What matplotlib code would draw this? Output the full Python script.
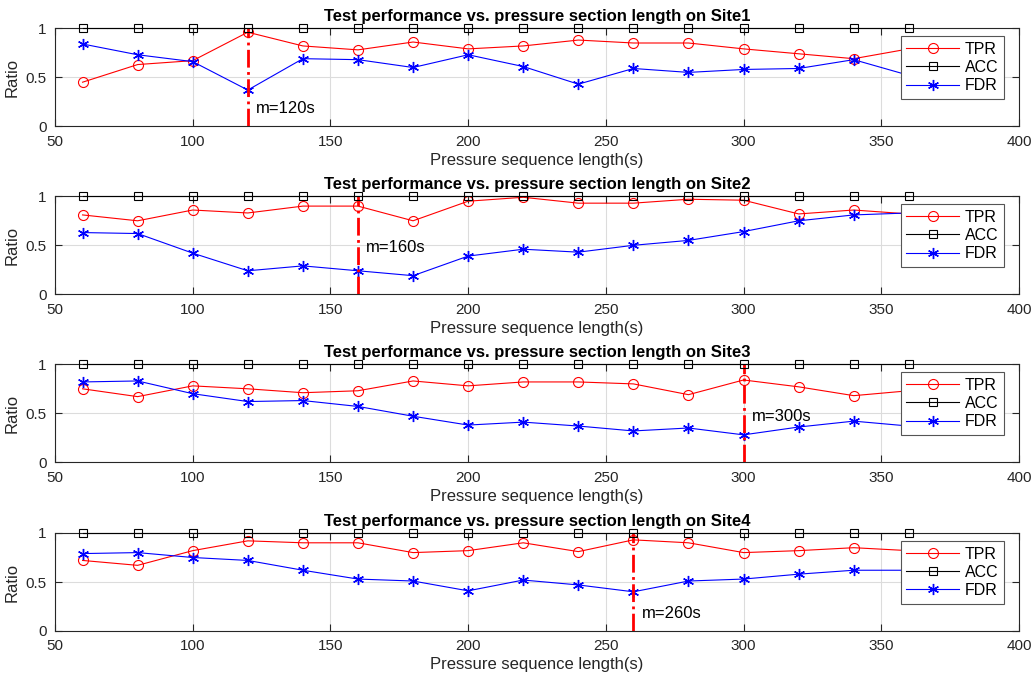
import matplotlib
matplotlib.use('Agg')
import matplotlib.pyplot as plt

plt.rcParams['font.family'] = ['Liberation Sans', 'DejaVu Sans']

# sequence lengths (s)
m = [60, 80, 100, 120, 140, 160, 180, 200, 220, 240, 260, 280, 300, 320, 340, 360]

acc = [1.0] * len(m)

tpr1 = [0.45, 0.63, 0.67, 0.96, 0.82, 0.78, 0.86, 0.79, 0.82, 0.88, 0.85, 0.85, 0.79, 0.74, 0.69, 0.79]
fdr1 = [0.84, 0.73, 0.66, 0.37, 0.69, 0.68, 0.60, 0.73, 0.61, 0.43, 0.59, 0.55, 0.58, 0.59, 0.68, 0.52]

tpr2 = [0.81, 0.75, 0.86, 0.83, 0.90, 0.90, 0.75, 0.95, 0.99, 0.93, 0.93, 0.97, 0.96, 0.82, 0.86, 0.82]
fdr2 = [0.63, 0.62, 0.42, 0.24, 0.29, 0.24, 0.19, 0.39, 0.46, 0.43, 0.50, 0.55, 0.64, 0.75, 0.81, 0.83]

tpr3 = [0.75, 0.67, 0.78, 0.75, 0.71, 0.73, 0.83, 0.78, 0.82, 0.82, 0.80, 0.69, 0.84, 0.77, 0.68, 0.73]
fdr3 = [0.82, 0.83, 0.70, 0.62, 0.63, 0.57, 0.47, 0.38, 0.41, 0.37, 0.32, 0.35, 0.28, 0.36, 0.42, 0.37]

tpr4 = [0.72, 0.67, 0.82, 0.92, 0.90, 0.90, 0.80, 0.82, 0.90, 0.81, 0.93, 0.90, 0.80, 0.82, 0.85, 0.82]
fdr4 = [0.79, 0.80, 0.75, 0.72, 0.62, 0.53, 0.51, 0.41, 0.52, 0.47, 0.40, 0.51, 0.53, 0.58, 0.62, 0.62]

sites = ['Site1', 'Site2', 'Site3', 'Site4']
tprs = [tpr1, tpr2, tpr3, tpr4]
fdrs = [fdr1, fdr2, fdr3, fdr4]
best = [120, 160, 300, 260]
label_y = [0.18, 0.48, 0.47, 0.18]

W, H = 1033, 677
fig = plt.figure(figsize=(W / 100, H / 100), dpi=100)

tops = [28.3, 196.3, 364.3, 533.0]
axh = 98.0
axw = 964.0
gray = '#262626'

for i in range(4):
    ax = fig.add_axes([55 / W, 1 - (tops[i] + axh) / H, axw / W, axh / H])
    ax.plot(m, tprs[i], '-', color='red', lw=0.8, marker='o', ms=7.2,
            mfc='none', mew=0.8, label='TPR')
    ax.plot(m, acc, '-', color='black', lw=0.8, marker='s', ms=5.8,
            mfc='none', mew=0.8, label='ACC', clip_on=False, zorder=3)
    ax.plot(m, fdrs[i], '-', color='blue', lw=0.8, marker=(6, 2, 0), ms=8,
            mew=1.0, label='FDR')
    ax.plot([best[i], best[i]], [0, 1], '-.', color='red', lw=2)
    ax.text(best[i] + 3, label_y[i], 'm=%ds' % best[i], fontsize=12,
            va='center', ha='left', color='black')

    ax.set_xlim(50, 400)
    ax.set_ylim(0, 1)
    ax.set_xticks(range(50, 401, 50))
    ax.set_yticks([0, 0.5, 1])
    ax.set_yticklabels(['0', '0.5', '1'])
    ax.grid(True, color='#dcdcdc', lw=0.8)
    ax.set_axisbelow(True)
    ax.tick_params(direction='in', top=True, right=True, length=5,
                   labelsize=11, colors=gray, pad=6)
    for s in ax.spines.values():
        s.set_color(gray)
        s.set_linewidth(0.8)
    ax.set_title('Test performance vs. pressure section length on ' + sites[i],
                 fontsize=12, fontweight='bold', pad=5)
    ax.set_xlabel('Pressure sequence length(s)', fontsize=12, color=gray, labelpad=3)
    ax.set_ylabel('Ratio', fontsize=12, color=gray, labelpad=4)
    leg = ax.legend(loc='upper right', bbox_to_anchor=(1 - 15 / axw, 1 - 8 / axh),
                    borderaxespad=0, fontsize=11.5, handlelength=3.3,
                    handletextpad=0.35, fancybox=False, framealpha=1,
                    edgecolor='#555555', labelspacing=0.2, borderpad=0.35)
    leg.get_frame().set_linewidth(0.8)
    leg.set_zorder(5)

fig.savefig('out.png', dpi=100)
